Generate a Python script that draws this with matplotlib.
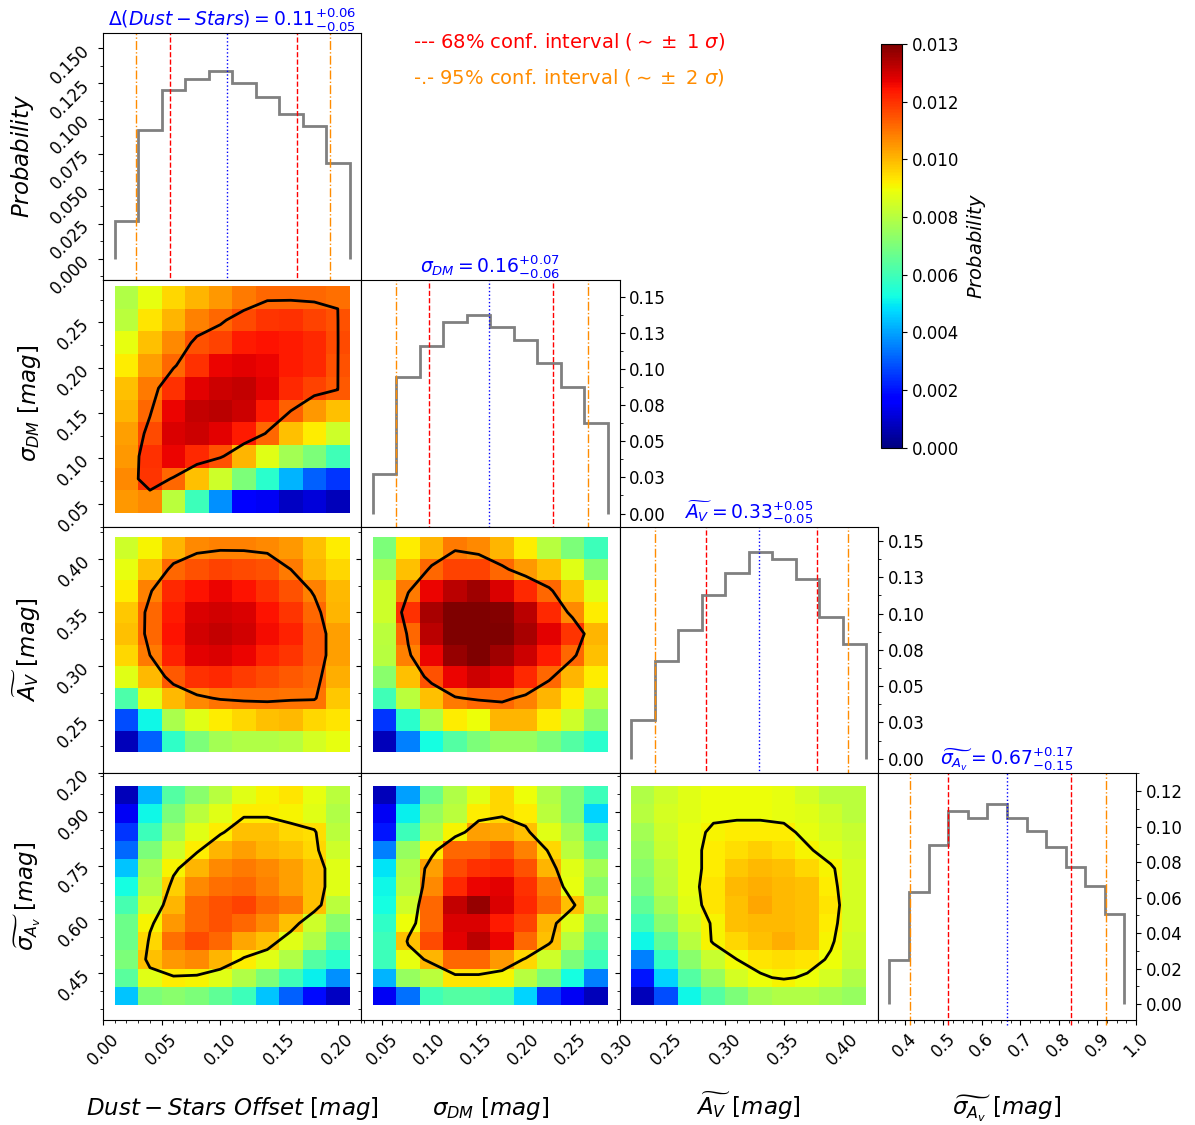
import numpy as np
import matplotlib
matplotlib.use("Agg")
import matplotlib.pyplot as plt
from matplotlib.ticker import MultipleLocator, FixedLocator, FixedFormatter, FormatStrFormatter

# bin edges of the four fitted parameters
OFFSET_EDGES = [0.01, 0.03, 0.05, 0.07, 0.09, 0.11, 0.13, 0.15, 0.17, 0.19, 0.21]
SIG_DM_EDGES = [0.04, 0.065, 0.09, 0.115, 0.14, 0.165, 0.19, 0.215, 0.24, 0.265, 0.29]
AV_EDGES = [0.22, 0.24, 0.26, 0.28, 0.30, 0.32, 0.34, 0.36, 0.38, 0.40, 0.42]
SIG_AV_EDGES = [0.36, 0.411, 0.462, 0.513, 0.563, 0.614, 0.665, 0.716, 0.767, 0.818, 0.868, 0.919, 0.97]

# 1D marginal probabilities
HIST_OFFSET = [0.0268, 0.0919, 0.1204, 0.1282, 0.1339, 0.1251, 0.1156, 0.1031, 0.0945, 0.0682]
HIST_SIG_DM = [0.0271, 0.0948, 0.1159, 0.1326, 0.1377, 0.1291, 0.1203, 0.1041, 0.0879, 0.0626]
HIST_AV = [0.0265, 0.0676, 0.0884, 0.1131, 0.1281, 0.1424, 0.1373, 0.1235, 0.0976, 0.0792]
HIST_SIG_AV = [0.0246, 0.0633, 0.0896, 0.1087, 0.1050, 0.1125, 0.1050, 0.0973, 0.0882,
               0.0773, 0.0665, 0.0505]

# median, lower / upper 68% errors, and 95% bounds
MED = [0.106, 0.1636, 0.3288, 0.666]
ERR_LO = [0.049, 0.0641, 0.0454, 0.154]
ERR_HI = [0.0596, 0.0678, 0.0496, 0.166]
CI95_LO = [0.0285, 0.0644, 0.2406, 0.414]
CI95_HI = [0.193, 0.2694, 0.4045, 0.923]

# 2D joint probabilities in units of 1e-4, rows listed from the top (high y) down
JOINT_SIGDM_OFFSET = [
    [76, 85, 92, 97, 101, 105, 108, 108, 108, 107],
    [78, 90, 97, 104, 108, 112, 115, 116, 113, 111],
    [85, 95, 103, 111, 113, 119, 120, 119, 117, 112],
    [89, 100, 108, 116, 122, 123, 122, 119, 117, 111],
    [95, 105, 116, 123, 126, 127, 123, 117, 113, 110],
    [97, 108, 122, 127, 128, 126, 119, 109, 101, 95],
    [100, 112, 124, 126, 123, 119, 108, 95, 89, 81],
    [101, 116, 122, 117, 111, 97, 84, 74, 68, 58],
    [103, 115, 108, 95, 81, 68, 54, 41, 30, 24],
    [101, 103, 78, 57, 36, 16, 14, 8, 11, 7],
]
JOINT_AV_OFFSET = [
    [81, 88, 97, 103, 104, 104, 103, 101, 95, 89],
    [85, 95, 108, 111, 113, 112, 111, 105, 97, 92],
    [89, 104, 117, 120, 122, 120, 116, 111, 104, 96],
    [94, 108, 119, 124, 125, 124, 120, 115, 108, 97],
    [95, 108, 120, 125, 127, 125, 121, 118, 110, 100],
    [92, 105, 118, 123, 124, 122, 118, 115, 110, 100],
    [84, 96, 110, 116, 117, 114, 112, 110, 108, 98],
    [60, 84, 96, 103, 106, 107, 107, 106, 106, 94],
    [27, 50, 75, 84, 89, 92, 95, 96, 92, 90],
    [7, 30, 55, 68, 74, 76, 76, 77, 82, 85],
]
JOINT_AV_SIGDM = [
    [68, 89, 97, 105, 103, 97, 89, 77, 68, 57],
    [74, 95, 108, 113, 113, 108, 101, 95, 84, 70],
    [81, 105, 122, 128, 131, 124, 117, 108, 95, 84],
    [81, 116, 130, 135, 135, 134, 128, 117, 103, 89],
    [78, 108, 128, 135, 135, 135, 130, 123, 115, 97],
    [77, 104, 122, 132, 135, 131, 126, 119, 108, 95],
    [70, 95, 111, 122, 126, 123, 117, 108, 97, 89],
    [58, 78, 95, 105, 108, 108, 104, 97, 89, 78],
    [24, 54, 76, 89, 86, 97, 97, 89, 81, 70],
    [7, 34, 51, 61, 68, 72, 72, 68, 61, 54],
]
JOINT_SIGAV_OFFSET = [
    [7, 41, 61, 70, 77, 84, 88, 90, 85, 78],
    [14, 50, 68, 78, 84, 89, 89, 88, 84, 76],
    [24, 57, 74, 84, 89, 95, 95, 92, 91, 78],
    [31, 68, 81, 89, 97, 100, 97, 95, 92, 81],
    [43, 74, 88, 97, 103, 105, 103, 100, 95, 84],
    [51, 76, 93, 103, 107, 108, 104, 100, 95, 84],
    [59, 81, 97, 108, 111, 113, 108, 105, 95, 78],
    [65, 88, 101, 108, 111, 108, 103, 95, 81, 70],
    [65, 92, 107, 112, 108, 99, 95, 84, 76, 62],
    [68, 95, 101, 103, 97, 89, 84, 76, 61, 54],
    [62, 84, 89, 88, 84, 76, 68, 58, 49, 36],
    [43, 68, 70, 68, 63, 57, 43, 30, 18, 8],
]
JOINT_SIGAV_SIGDM = [
    [7, 38, 65, 76, 84, 92, 86, 76, 68, 57],
    [14, 49, 72, 78, 89, 92, 89, 78, 68, 45],
    [20, 57, 76, 88, 100, 99, 95, 84, 74, 58],
    [34, 72, 89, 108, 108, 111, 104, 92, 78, 65],
    [47, 76, 100, 112, 116, 117, 111, 97, 84, 74],
    [50, 77, 103, 117, 122, 123, 116, 105, 85, 70],
    [51, 81, 108, 127, 132, 124, 117, 108, 95, 76],
    [55, 86, 108, 124, 124, 119, 113, 97, 84, 68],
    [57, 95, 112, 123, 128, 122, 108, 95, 77, 62],
    [57, 85, 97, 108, 108, 101, 92, 81, 68, 57],
    [41, 72, 78, 90, 90, 88, 77, 68, 51, 34],
    [14, 32, 58, 61, 61, 58, 45, 24, 14, 7],
]
JOINT_SIGAV_AV = [
    [76, 81, 84, 86, 86, 86, 85, 82, 78, 78],
    [77, 82, 84, 86, 86, 86, 85, 84, 81, 78],
    [74, 81, 85, 88, 89, 89, 89, 85, 82, 80],
    [72, 80, 85, 89, 91, 93, 91, 88, 84, 81],
    [70, 78, 85, 89, 94, 96, 95, 92, 88, 82],
    [68, 77, 85, 90, 96, 98, 96, 95, 89, 82],
    [63, 74, 84, 90, 95, 99, 96, 95, 90, 82],
    [58, 70, 81, 88, 95, 96, 96, 95, 89, 82],
    [50, 63, 77, 88, 92, 95, 98, 95, 88, 81],
    [34, 55, 70, 80, 87, 90, 91, 90, 86, 80],
    [20, 45, 61, 72, 82, 86, 88, 86, 82, 76],
    [7, 27, 50, 61, 68, 74, 76, 76, 74, 72],
]
# probability level traced by the black contour in each panel (1e-4 units)
CONTOUR_LEVELS = {(1, 0): 109, (2, 0): 105, (2, 1): 106,
                  (3, 0): 90, (3, 1): 93, (3, 2): 87}

CBAR_LABELS = ["0.000", "0.002", "0.004", "0.006", "0.008", "0.010", "0.012", "0.013"]
VMAX = 0.0135

EDGES = [OFFSET_EDGES, SIG_DM_EDGES, AV_EDGES, SIG_AV_EDGES]
HISTS = [HIST_OFFSET, HIST_SIG_DM, HIST_AV, HIST_SIG_AV]
JOINTS = {(1, 0): JOINT_SIGDM_OFFSET, (2, 0): JOINT_AV_OFFSET, (2, 1): JOINT_AV_SIGDM,
          (3, 0): JOINT_SIGAV_OFFSET, (3, 1): JOINT_SIGAV_SIGDM, (3, 2): JOINT_SIGAV_AV}

TITLE_NAMES = [r"\Delta(Dust-Stars)", r"\sigma_{DM}", r"\widetilde{A_V}", r"\widetilde{\sigma_{A_v}}"]
AXIS_LABELS = [r"$Dust-Stars\ Offset\ [mag]$", r"$\sigma_{DM}\ [mag]$",
               r"$\widetilde{A_V}\ [mag]$", r"$\widetilde{\sigma_{A_v}}\ [mag]$"]

XLIMS = [(0.0, 0.22), (0.0275, 0.3025), (0.21, 0.43), (0.33, 1.0)]
YLIMS = [None, (0.025, 0.297), (0.20, 0.43), (0.318, 1.008)]
HIST_YLIMS = [(-0.015, 0.161), (-0.009, 0.162), (-0.010, 0.160), (-0.009, 0.130)]
X_MAJOR = [0.05, 0.05, 0.05, 0.1]
X_MINOR = [0.01, 0.01, 0.01, 0.025]
Y_MAJOR = [None, 0.05, 0.05, 0.15]
Y_MINOR = [None, 0.025, 0.025, 0.05]
X_FMT = ["%.2f", "%.2f", "%.2f", "%.1f"]

TICK_FS = 12
LABEL_FS = 16.5


def centres(e):
    e = np.asarray(e)
    return 0.5 * (e[1:] + e[:-1])


def padded_axis(e):
    # cell centres plus the outer edges, so contours close inside the image
    return np.concatenate([[e[0]], centres(e), [e[-1]]])


fig = plt.figure(figsize=(11.95, 11.25), dpi=100)
L, R = 103 / 1195, 1136 / 1195
T, B = 1 - 33 / 1125, 1 - 1020 / 1125
w, h = (R - L) / 4, (T - B) / 4

axes = {}
for i in range(4):
    for j in range(i + 1):
        axes[i, j] = fig.add_axes([L + j * w, T - (i + 1) * h, w, h])

im = None
for (i, j), grid in JOINTS.items():
    ax = axes[i, j]
    z = np.flipud(np.array(grid, dtype=float)) * 1e-4
    xe, ye = EDGES[j], EDGES[i]
    im = ax.imshow(z, origin="lower", extent=[xe[0], xe[-1], ye[0], ye[-1]],
                   aspect="auto", cmap="jet", vmin=0, vmax=VMAX, interpolation="nearest")
    ax.contour(padded_axis(xe), padded_axis(ye), np.pad(z, 1),
               levels=[CONTOUR_LEVELS[i, j] * 1e-4], colors="k", linewidths=2)
    ax.set_ylim(*YLIMS[i])
    ax.yaxis.set_major_locator(MultipleLocator(Y_MAJOR[i]))
    ax.yaxis.set_minor_locator(MultipleLocator(Y_MINOR[i]))
    ax.yaxis.set_major_formatter(FormatStrFormatter("%.2f"))
    if j == 0:
        ax.tick_params(axis="y", labelrotation=45, labelsize=TICK_FS)
        ax.set_ylabel(AXIS_LABELS[i], fontsize=LABEL_FS, labelpad=8)
    else:
        ax.tick_params(axis="y", labelleft=False)

# diagonal: marginal histograms with credible intervals
for k in range(4):
    ax = axes[k, k]
    ax.stairs(HISTS[k], EDGES[k], baseline=0, color="grey", lw=2)
    lo, hi = MED[k] - ERR_LO[k], MED[k] + ERR_HI[k]
    for x in (CI95_LO[k], CI95_HI[k]):
        ax.axvline(x, ymin=-0.02, color="darkorange", ls="-.", lw=1, clip_on=False)
    for x in (lo, hi):
        ax.axvline(x, ymin=-0.02, color="red", ls="--", lw=1, clip_on=False)
    ax.axvline(MED[k], ymin=-0.02, color="blue", ls=":", lw=1, clip_on=False)
    ax.set_ylim(*HIST_YLIMS[k])
    title = rf"${TITLE_NAMES[k]} = {MED[k]:.2f}^{{+{ERR_HI[k]:.2f}}}_{{-{ERR_LO[k]:.2f}}}$"
    ax.set_title(title, color="blue", fontsize=13.5, pad=3)
    if k == 0:
        ax.yaxis.set_major_locator(MultipleLocator(0.025))
        ax.yaxis.set_minor_locator(MultipleLocator(0.0125))
        ax.yaxis.set_major_formatter(FormatStrFormatter("%.3f"))
        ax.tick_params(axis="y", labelrotation=45, labelsize=TICK_FS)
        ax.set_ylabel(r"$Probability$", fontsize=LABEL_FS, labelpad=8)
    else:
        ax.yaxis.tick_right()
        ax.tick_params(axis="y", labelsize=TICK_FS)
        if k == 3:
            pos = [0.0, 0.02, 0.04, 0.06, 0.08, 0.10, 0.12]
            labs = ["0.00", "0.02", "0.04", "0.06", "0.08", "0.10", "0.12"]
            ax.yaxis.set_minor_locator(MultipleLocator(0.01))
        else:
            pos = [0.0, 0.025, 0.05, 0.075, 0.10, 0.125, 0.15]
            labs = ["0.00", "0.03", "0.05", "0.08", "0.10", "0.13", "0.15"]
            ax.yaxis.set_minor_locator(MultipleLocator(0.0125))
        ax.yaxis.set_major_locator(FixedLocator(pos))
        ax.yaxis.set_major_formatter(FixedFormatter(labs))

# shared x settings per column
for (i, j), ax in axes.items():
    ax.set_xlim(*XLIMS[j])
    ax.xaxis.set_major_locator(MultipleLocator(X_MAJOR[j]))
    ax.xaxis.set_minor_locator(MultipleLocator(X_MINOR[j]))
    ax.xaxis.set_major_formatter(FormatStrFormatter(X_FMT[j]))
    if i == 3:
        ax.tick_params(axis="x", labelrotation=45, labelsize=TICK_FS)
        ax.set_xlabel(AXIS_LABELS[j], fontsize=LABEL_FS)
        # same baseline for every bottom label
        ax.xaxis.set_label_coords(0.5, -0.385)
        ax.xaxis.label.set_verticalalignment("baseline")
    else:
        ax.tick_params(axis="x", which="both", bottom=False, labelbottom=False)

# colour bar
cax = fig.add_axes([880.7 / 1195, 1 - 447.7 / 1125, 21.6 / 1195, 403.7 / 1125])
cb = fig.colorbar(im, cax=cax)
cb.set_ticks(np.linspace(0, VMAX, len(CBAR_LABELS)))
cb.set_ticklabels(CBAR_LABELS)
cb.ax.tick_params(labelsize=TICK_FS)
cb.set_label(r"$Probability$", fontsize=14)

fig.text(413 / 1195, 1 - 41 / 1125, r"--- 68% conf. interval ($\sim\pm$ 1 $\sigma$)",
         color="red", fontsize=14, va="center")
fig.text(413 / 1195, 1 - 77 / 1125, r"-.- 95% conf. interval ($\sim\pm$ 2 $\sigma$)",
         color="darkorange", fontsize=14, va="center")

fig.savefig("out.png", dpi=100)
